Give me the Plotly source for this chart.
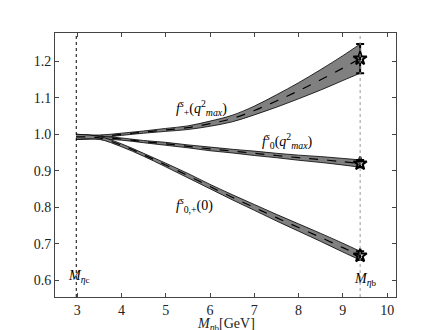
import plotly.graph_objects as go

# eta_Q mass grid [GeV]
m_eta = [2.98, 3.5, 4.0, 4.5, 5.0, 5.5, 6.0, 6.5, 7.0, 7.5, 8.0, 8.5, 9.0, 9.39]

# f_+^s(q^2_max)
fplus = [0.993, 0.994, 1.000, 1.006, 1.012, 1.018, 1.029, 1.043, 1.065, 1.091, 1.119, 1.149, 1.181, 1.207]
fplus_err = [0.007, 0.004, 0.003, 0.003, 0.004, 0.005, 0.007, 0.009, 0.012, 0.017, 0.022, 0.028, 0.034, 0.040]

# f_0^s(q^2_max)
fzero = [0.993, 0.991, 0.987, 0.980, 0.974, 0.967, 0.960, 0.954, 0.948, 0.942, 0.936, 0.931, 0.925, 0.920]
fzero_err = [0.007, 0.004, 0.003, 0.003, 0.004, 0.004, 0.005, 0.005, 0.006, 0.006, 0.007, 0.008, 0.009, 0.010]

# f_{0,+}^s(0)
fq0 = [0.993, 0.990, 0.970, 0.944, 0.916, 0.887, 0.857, 0.828, 0.800, 0.772, 0.745, 0.718, 0.690, 0.668]
fq0_err = [0.007, 0.004, 0.004, 0.004, 0.005, 0.006, 0.006, 0.007, 0.008, 0.009, 0.010, 0.011, 0.012, 0.012]

M_ETAC = 2.98
M_ETAB = 9.39

FONT = "Liberation Serif, DejaVu Serif, serif"
SMALL = "<span style='font-size:9px'>%s</span>"

fig = go.Figure()

for y, e in [(fplus, fplus_err), (fzero, fzero_err), (fq0, fq0_err)]:
    upper = [v + d for v, d in zip(y, e)]
    lower = [v - d for v, d in zip(y, e)]
    fig.add_trace(go.Scatter(x=m_eta, y=upper, mode="lines", line=dict(color="black", width=0.8),
                             line_shape="spline", showlegend=False, hoverinfo="skip"))
    fig.add_trace(go.Scatter(x=m_eta, y=lower, mode="lines", line=dict(color="black", width=0.8),
                             line_shape="spline", fill="tonexty", fillcolor="#808080",
                             showlegend=False, hoverinfo="skip"))
    fig.add_trace(go.Scatter(x=m_eta, y=y, mode="lines", line=dict(color="black", width=1.2, dash="dash"),
                             line_shape="spline", showlegend=False))
    # value at eta_b with error bar
    fig.add_trace(go.Scatter(x=[m_eta[-1]], y=[y[-1]], mode="markers",
                             marker=dict(symbol="star-open", size=10, color="black", line=dict(width=2)),
                             error_y=dict(type="data", array=[e[-1]], color="black", thickness=2, width=4),
                             showlegend=False))

# vertical mass lines
fig.add_vline(x=M_ETAC, line=dict(color="black", width=1, dash="dot"))
fig.add_vline(x=M_ETAB, line=dict(color="#999999", width=1, dash="dot"))

ann = [
    (3.05, 0.61, "<i>M</i><sub><i>η</i>" + SMALL % "c" + "</sub>"),
    (9.5, 0.604, "<i>M</i><sub><i>η</i>" + SMALL % "b" + "</sub>"),
    (5.8, 1.073, "<i>f</i><sup><i>s</i></sup><sub>+</sub>(<i>q</i><sup>2</sup><sub><i>max</i></sub>)"),
    (7.75, 0.981, "<i>f</i><sup><i>s</i></sup><sub>0</sub>(<i>q</i><sup>2</sup><sub><i>max</i></sub>)"),
    (5.64, 0.806, "<i>f</i><sup><i>s</i></sup><sub>0,+</sub>(0)"),
]
for x, y, t in ann:
    fig.add_annotation(x=x, y=y, text=t, showarrow=False, font=dict(family=FONT, size=14, color="black"))

# x axis title, placed under the tick labels
fig.add_annotation(x=0.5, y=-0.065, xref="paper", yref="paper", yanchor="top", showarrow=False,
                   text="<i>M</i><sub><i>η</i>" + SMALL % "b" + "</sub>[GeV]",
                   font=dict(family=FONT, size=14, color="#222"))

axis_common = dict(showgrid=False, zeroline=False, ticks="inside", ticklen=4, tickcolor="#444",
                   showline=True, linecolor="#444", linewidth=1, mirror="allticks",
                   tickfont=dict(family=FONT, size=14, color="#222"))

fig.update_xaxes(range=[2.5, 10.2], dtick=1, tick0=3, **axis_common)
fig.update_yaxes(range=[0.555, 1.277], dtick=0.1, tick0=0.6, tickformat=".1f", **axis_common)

# page body adds an 8px offset, margins compensate for it
fig.update_layout(width=440, height=330, margin=dict(l=47, r=52, t=25, b=41),
                  plot_bgcolor="white", paper_bgcolor="white", showlegend=False)

fig.write_html("out.html")
